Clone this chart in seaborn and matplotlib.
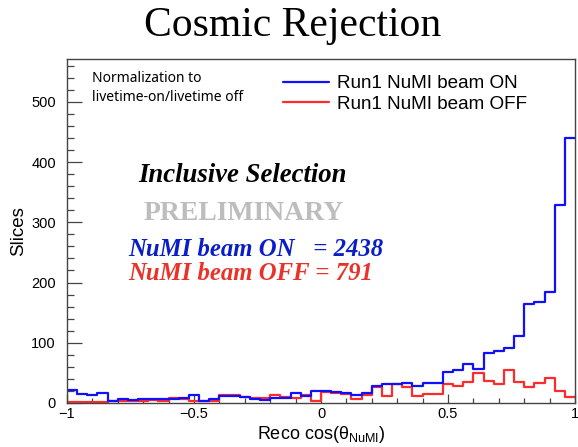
import numpy as np
import pandas as pd
import matplotlib
matplotlib.use("Agg")
import matplotlib.pyplot as plt
from matplotlib.lines import Line2D
from matplotlib.ticker import MultipleLocator
import seaborn as sns

# 50 bins of reconstructed cos(theta_NuMI) between -1 and 1
bin_lo, bin_hi, n_bins = -1.0, 1.0, 50

beam_on = [21, 15, 14, 16, 4, 6, 5, 7, 6, 7,
           7, 8, 13, 4, 6, 12, 12, 10, 7, 5,
           8, 8, 17, 12, 20, 20, 19, 16, 14, 16,
           28, 31, 31, 33, 28, 33, 33, 52, 54, 65,
           57, 83, 86, 92, 111, 164, 168, 185, 329, 440]

beam_off = [1, 1, 1, 1, 3, 3, 4, 3, 5, 4,
            8, 6, 4, 4, 3, 13, 13, 10, 9, 8,
            14, 10, 9, 13, 3, 18, 17, 15, 7, 14,
            26, 11, 32, 26, 11, 15, 15, 32, 28, 35,
            49, 36, 31, 54, 35, 26, 34, 41, 20, 10]

series_labels = ["Run1 NuMI beam ON", "Run1 NuMI beam OFF"]
series_colors = ["#1010ff", "#ff2a2a"]

edges = np.linspace(bin_lo, bin_hi, n_bins + 1)
centers = 0.5 * (edges[:-1] + edges[1:])
df = pd.DataFrame({
    "cos": np.concatenate([centers, centers]),
    "slices": beam_on + beam_off,
    "sample": [series_labels[0]] * n_bins + [series_labels[1]] * n_bins,
})

sns.set_theme(style="white")
plt.rcParams["font.family"] = ["Liberation Sans", "DejaVu Sans"]
plt.rcParams["mathtext.fontset"] = "custom"
plt.rcParams["mathtext.rm"] = "Liberation Sans"
plt.rcParams["mathtext.it"] = "Liberation Sans"
plt.rcParams["text.color"] = "black"
plt.rcParams["axes.labelcolor"] = "black"
plt.rcParams["xtick.labelcolor"] = "black"
plt.rcParams["ytick.labelcolor"] = "black"

W, H = 578, 447
fig = plt.figure(figsize=(W / 100, H / 100), dpi=100)
fig.patch.set_facecolor("white")
ax = fig.add_axes([67 / W, 44 / H, 508 / W, 344 / H])

sns.histplot(data=df, x="cos", weights="slices", hue="sample",
             hue_order=series_labels, palette=series_colors,
             bins=n_bins, binrange=(bin_lo, bin_hi), element="step",
             fill=False, linewidth=1.6, legend=False, ax=ax)

ax.set_xlim(bin_lo, bin_hi)
ax.set_ylim(0, 571)

for s in ax.spines.values():
    s.set_color("#444444")
    s.set_linewidth(1.0)

ax.xaxis.set_major_locator(MultipleLocator(0.5))
ax.xaxis.set_minor_locator(MultipleLocator(0.1))
ax.yaxis.set_major_locator(MultipleLocator(100))
ax.yaxis.set_minor_locator(MultipleLocator(20))
ax.tick_params(axis="x", which="major", direction="in", length=6.5, width=0.9,
               color="#444444", labelcolor="black", labelsize=10.5, pad=3,
               bottom=True)
ax.tick_params(axis="x", which="minor", direction="in", length=3.6, width=0.9,
               color="#444444", bottom=True)
ax.tick_params(axis="y", which="major", direction="in", length=10.5, width=0.9,
               color="#444444", labelcolor="black", labelsize=10.5, pad=8,
               left=True)
ax.tick_params(axis="y", which="minor", direction="in", length=5, width=0.9,
               color="#444444", left=True)
ax.set_xticks([-1, -0.5, 0, 0.5, 1])
ax.set_xticklabels(["\u22121", "\u22120.5", "0", "0.5", "1"])

ax.set_xlabel("Reco cos(\u03b8$_{\\mathregular{NuMI}}$)", fontsize=13, labelpad=2,
              color="black")
ax.set_ylabel("Slices", fontsize=13.5, labelpad=3, color="black")

handles = [Line2D([], [], color=c, lw=1.6) for c in series_colors]
leg = ax.legend(handles, series_labels, loc="upper left", frameon=False,
                bbox_to_anchor=(283 / W, (H - 75) / H), bbox_transform=fig.transFigure,
                fontsize=13.6, handlelength=2.45, handletextpad=0.42,
                labelspacing=0.18, borderaxespad=0, borderpad=0)
for t in leg.get_texts():
    t.set_color("black")

fig.text(92 / W, 1 - 88 / H, "Normalization to\nlivetime-on/livetime off",
         fontsize=10, family=["Noto Sans", "DejaVu Sans"], va="center",
         linespacing=1.45, color="black")

fig.text(293 / W, 1 - 26 / H, "Cosmic Rejection", fontsize=30,
         family=["Liberation Serif", "DejaVu Serif"], ha="center", va="center",
         color="black")

serif = ["Liberation Serif", "DejaVu Serif"]
fig.text(243 / W, 1 - 175 / H, "Inclusive Selection", fontsize=19.3,
         family=serif, weight="bold", style="italic", color="black",
         ha="center", va="center")
fig.text(244 / W, 1 - 213 / H, "PRELIMINARY", fontsize=20,
         family=serif, weight="bold", color="#bdbdbd", ha="center", va="center")
fig.text(128 / W, 1 - 250 / H, "NuMI beam ON   = 2438", fontsize=17.8,
         family=serif, weight="bold", style="italic", color="#0a1ec8",
         ha="left", va="center")
fig.text(128 / W, 1 - 273 / H, "NuMI beam OFF = 791", fontsize=17.8,
         family=serif, weight="bold", style="italic", color="#ea3228",
         ha="left", va="center")

fig.savefig("out.png", dpi=100, facecolor="white")
